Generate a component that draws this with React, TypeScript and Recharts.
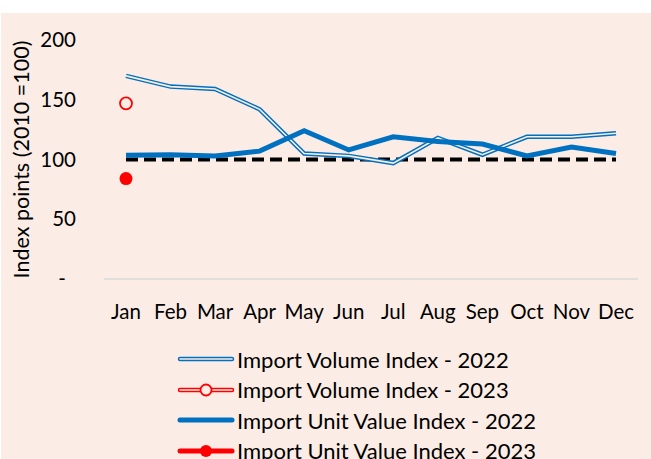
import React from "react";
import { LineChart, Line, XAxis, YAxis, Legend, Label } from "recharts";

const months = ["Jan", "Feb", "Mar", "Apr", "May", "Jun", "Jul", "Aug", "Sep", "Oct", "Nov", "Dec"];
const volume2022 = [170, 161, 159, 142, 105, 103, 97, 118, 104, 119, 119, 122];
const volume2023: (number | null)[] = [147, null, null, null, null, null, null, null, null, null, null, null];
const unitValue2022 = [103.5, 104, 103, 107, 124, 108, 119, 115, 113, 103, 110.5, 105];
const unitValue2023: (number | null)[] = [84, null, null, null, null, null, null, null, null, null, null, null];
const baseline = [100, 100, 100, 100, 100, 100, 100, 100, 100, 100, 100, 100];
const yTicks = [0, 50, 100, 150, 200];

const BG = "#FBEDE5";
const BLUE = "#0070C0";
const RED = "#FF0000";
const FONT = "Lato, 'Open Sans', sans-serif";

const data = months.map((m, i) => ({
  month: m,
  vol22: volume2022[i],
  vol23: volume2023[i],
  uv22: unitValue2022[i],
  uv23: unitValue2023[i],
  base: baseline[i],
}));

const legendItems = [
  { name: "Import Volume Index - 2022", color: BLUE, double: true, marker: "none" },
  { name: "Import Volume Index - 2023", color: RED, double: true, marker: "open" },
  { name: "Import Unit Value Index - 2022", color: BLUE, double: false, marker: "none" },
  { name: "Import Unit Value Index - 2023", color: RED, double: false, marker: "filled" },
];

function LegendIcon({ color, double, marker }: { color: string; double: boolean; marker: string }) {
  return (
    <svg width={58} height={14} style={{ display: "block" }}>
      {double ? (
        <>
          <line x1={3} y1={7} x2={55} y2={7} stroke={color} strokeWidth={4.5} strokeLinecap="round" />
          <line x1={3} y1={7} x2={55} y2={7} stroke={BG} strokeWidth={1.6} strokeLinecap="round" />
        </>
      ) : (
        <line x1={3} y1={7} x2={55} y2={7} stroke={color} strokeWidth={5} strokeLinecap="round" />
      )}
      {marker === "open" && <circle cx={29} cy={7} r={5.5} fill={BG} stroke={color} strokeWidth={1.8} />}
      {marker === "filled" && <circle cx={29} cy={7} r={6} fill={color} />}
    </svg>
  );
}

function renderLegend() {
  return (
    <div style={{ fontFamily: FONT, fontSize: 22, color: "#000" }}>
      {legendItems.map((it) => (
        <div key={it.name} style={{ display: "flex", alignItems: "center", height: 30.5, whiteSpace: "nowrap" }}>
          <LegendIcon color={it.color} double={it.double} marker={it.marker} />
          <span style={{ marginLeft: 2 }}>{it.name}</span>
        </div>
      ))}
    </div>
  );
}

function YTick(props: any) {
  const { x, y, payload } = props;
  const isZero = payload.value === 0;
  return (
    <text
      x={isZero ? x - 14 : x}
      y={y}
      dy="0.35em"
      textAnchor={isZero ? "middle" : "end"}
      fontFamily={FONT}
      fontSize={20.5}
      fill="#000"
    >
      {isZero ? "-" : payload.value}
    </text>
  );
}

export default function App() {
  return (
    <div style={{ position: "fixed", left: 0, top: 0, width: 651, height: 459, background: "#fff", overflow: "hidden" }}>
      <div style={{ position: "absolute", left: 1, top: 13, width: 650, height: 446, background: BG }}>
        <LineChart width={650} height={446} data={data} margin={{ top: 27, right: 13, left: 0, bottom: 150 }}>
          <XAxis
            dataKey="month"
            stroke="#D9D9D9"
            strokeWidth={1.5}
            tickLine={false}
            tickSize={0}
            tickMargin={25}
            padding={{ left: 22, right: 22 }}
            tick={{ fill: "#000", fontSize: 20.5, fontFamily: FONT }}
            interval={0}
          />
          <YAxis
            width={103}
            domain={[0, 200]}
            ticks={yTicks}
            axisLine={false}
            tickLine={false}
            tickSize={0}
            tickMargin={28}
            tick={<YTick />}
          >
            <Label
              value="Index points (2010 =100)"
              angle={-90}
              position="insideLeft"
              offset={20}
              style={{ textAnchor: "middle", fontFamily: FONT, fontSize: 21.5, fill: "#000" }}
            />
          </YAxis>
          <Legend
            layout="horizontal"
            verticalAlign="middle"
            align="center"
            content={renderLegend}
            wrapperStyle={{ position: "absolute", left: 176, top: 331, width: 440, height: 130 }}
          />
          <Line dataKey="base" stroke="#000" strokeWidth={4} strokeDasharray="12 6" dot={false} legendType="none" isAnimationActive={false} />
          <Line dataKey="vol22" name="Import Volume Index - 2022" stroke={BLUE} strokeWidth={4.5} dot={false} isAnimationActive={false} />
          <Line dataKey="vol22" stroke={BG} strokeWidth={1.6} dot={false} legendType="none" isAnimationActive={false} />
          <Line dataKey="uv22" name="Import Unit Value Index - 2022" stroke={BLUE} strokeWidth={5} dot={false} isAnimationActive={false} />
          <Line
            dataKey="vol23"
            name="Import Volume Index - 2023"
            stroke={RED}
            strokeWidth={2}
            dot={{ r: 6, fill: BG, stroke: RED, strokeWidth: 1.8 }}
            isAnimationActive={false}
          />
          <Line
            dataKey="uv23"
            name="Import Unit Value Index - 2023"
            stroke={RED}
            strokeWidth={5}
            dot={{ r: 6.5, fill: RED, stroke: RED, strokeWidth: 0 }}
            isAnimationActive={false}
          />
        </LineChart>
      </div>
    </div>
  );
}
